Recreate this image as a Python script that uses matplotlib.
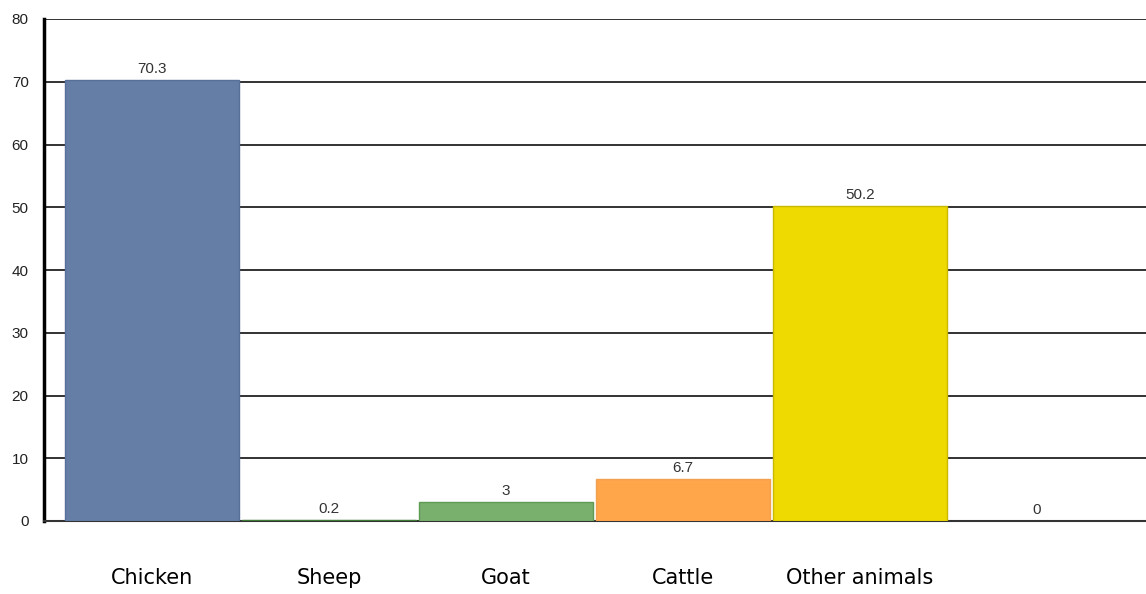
import matplotlib.pyplot as plt

categories = ["Chicken", "Sheep", "Goat", "Cattle", "Other animals", ""]
values = [70.3, 0.2, 3, 6.7, 50.2, 0]
value_labels = ["70.3", "0.2", "3", "6.7", "50.2", "0"]
colors = ["#647ea6", "#5a9a4e", "#7ab06e", "#ffa64a", "#eed900", "#cccccc"]
edges = ["#56709a", "#3d7a33", "#5f9a52", "#f0a050", "#c8b800", "#cccccc"]
y_ticks = [0, 10, 20, 30, 40, 50, 60, 70, 80]

fig = plt.figure(figsize=(11.46, 5.94), dpi=100)
ax = fig.add_axes([44 / 1146, 73 / 594, 1102 / 1146, 502 / 594])

x = list(range(len(categories)))
ax.set_xlim(-0.61, 5.616)
ax.set_ylim(0, 80)

# horizontal grid lines behind the bars
for t in y_ticks[1:]:
    ax.axhline(t, color="#222222", lw=1.3, zorder=0)

bars = ax.bar(x, values, width=0.98, color=colors, edgecolor=edges,
              linewidth=1, zorder=3)
bars[-1].set_visible(False)

for xi, v, lab in zip(x, values, value_labels):
    ax.annotate(lab, (xi, v), xytext=(0, 3), textcoords="offset points",
                ha="center", va="bottom", fontsize=11,
                family="Liberation Sans", color="#333333")

ax.set_yticks(y_ticks)
ax.set_yticklabels([str(t) for t in y_ticks], family="Liberation Sans",
                   fontsize=11, color="#222222")
ax.set_xticks(x)
ax.set_xticklabels(categories, family="DejaVu Sans", fontsize=15)
ax.tick_params(axis="y", length=0, pad=11)
ax.tick_params(axis="x", length=0, pad=34)

for s in ["top", "right"]:
    ax.spines[s].set_visible(False)
ax.spines["left"].set_linewidth(2.5)
ax.spines["left"].set_color("black")
ax.spines["bottom"].set_linewidth(1.5)
ax.spines["bottom"].set_color("#333333")

fig.savefig("out.png", dpi=100)
